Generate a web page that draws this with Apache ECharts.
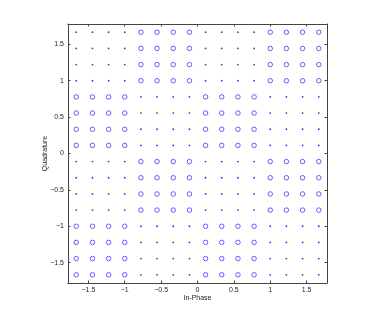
<!DOCTYPE html>
<html>
<head>
<meta charset="utf-8">
<script src="https://cdn.jsdelivr.net/npm/echarts@6/dist/echarts.min.js"></script>
<style>
html,body{margin:0;padding:0;background:#fff;}
#c{width:382px;height:319px;}
</style>
</head>
<body>
<div id="c"></div>
<script>
// Constellation levels (same on both axes)
const levels = [-1.667,-1.444,-1.222,-1.0,-0.778,-0.556,-0.333,-0.111,0.111,0.333,0.556,0.778,1.0,1.222,1.444,1.667];
// Marker pattern, rows from top (highest Quadrature) to bottom; 'o' = circle, '.' = dot
const pattern = [
  "....oooo....oooo",
  "....oooo....oooo",
  "....oooo....oooo",
  "....oooo....oooo",
  "oooo....oooo....",
  "oooo....oooo....",
  "oooo....oooo....",
  "oooo....oooo....",
  "....oooo....oooo",
  "....oooo....oooo",
  "....oooo....oooo",
  "....oooo....oooo",
  "oooo....oooo....",
  "oooo....oooo....",
  "oooo....oooo....",
  "oooo....oooo...."
];
const tickValues = [-1.5,-1,-0.5,0,0.5,1,1.5];
const axisMin = -1.78, axisMax = 1.78;
const xName = "In-Phase", yName = "Quadrature";

const circles = [], dots = [];
pattern.forEach((row, r) => {
  const y = levels[levels.length - 1 - r];
  for (let c = 0; c < row.length; c++) {
    const pt = [levels[c], y];
    if (row[c] === 'o') circles.push(pt); else dots.push(pt);
  }
});

const FONT = 'Liberation Sans, Arial, sans-serif';
const lineStyle = {color: '#444', width: 1};
function fmt(v){ return String(v).replace('-', '\u2212'); }

const chart = echarts.init(document.getElementById('c'), null, {renderer: 'canvas'});
chart.setOption({
  animation: false,
  grid: {left: 68, top: 24, width: 259, height: 259, containLabel: false},
  xAxis: [
    {type: 'value', min: axisMin, max: axisMax, position: 'bottom',
     name: xName, nameLocation: 'middle', nameGap: 11.5, nameMoveOverlap: false,
     nameTextStyle: {fontFamily: FONT, fontSize: 7, color: '#222'},
     axisLine: {show: true, lineStyle: lineStyle, onZero: false},
     axisTick: {show: true, inside: true, length: 2.5, lineStyle: lineStyle, customValues: tickValues},
     axisLabel: {show: true, fontFamily: FONT, fontSize: 7, color: '#222', margin: 4, customValues: tickValues, formatter: fmt},
     splitLine: {show: false}},
    {type: 'value', min: axisMin, max: axisMax, position: 'top',
     axisLine: {show: true, lineStyle: lineStyle, onZero: false},
     axisTick: {show: true, inside: true, length: 2.5, lineStyle: lineStyle, customValues: tickValues},
     axisLabel: {show: false},
     splitLine: {show: false}}
  ],
  yAxis: [
    {type: 'value', min: axisMin, max: axisMax, position: 'left',
     name: yName, nameLocation: 'middle', nameGap: 19.5, nameRotate: 90, nameMoveOverlap: false,
     nameTextStyle: {fontFamily: FONT, fontSize: 7, color: '#222'},
     axisLine: {show: true, lineStyle: lineStyle, onZero: false},
     axisTick: {show: true, inside: true, length: 2.5, lineStyle: lineStyle, customValues: tickValues},
     axisLabel: {show: true, fontFamily: FONT, fontSize: 7, color: '#222', margin: 4, customValues: tickValues, formatter: fmt},
     splitLine: {show: false}},
    {type: 'value', min: axisMin, max: axisMax, position: 'right',
     axisLine: {show: true, lineStyle: lineStyle, onZero: false},
     axisTick: {show: true, inside: true, length: 2.5, lineStyle: lineStyle, customValues: tickValues},
     axisLabel: {show: false},
     splitLine: {show: false}}
  ],
  series: [
    {type: 'scatter', xAxisIndex: 0, yAxisIndex: 0, data: circles, symbol: 'circle', symbolSize: 4.5,
     itemStyle: {color: 'rgba(0,0,0,0)', borderColor: '#3a3aff', borderWidth: 1}, silent: true},
    {type: 'scatter', xAxisIndex: 0, yAxisIndex: 0, data: dots, symbol: 'circle', symbolSize: 1.8,
     itemStyle: {color: '#0000ff'}, silent: true}
  ]
});
</script>
</body>
</html>
